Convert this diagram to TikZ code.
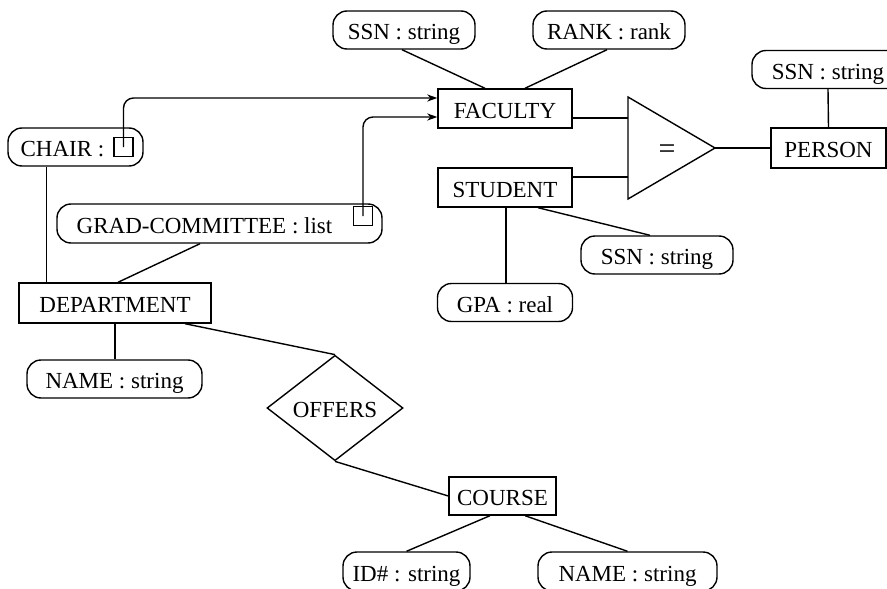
\documentclass[tikz,border=0pt]{standalone}
\usepackage{fontspec}
\setmainfont{Liberation Serif}
\usetikzlibrary{shapes.geometric,arrows.meta}

\tikzset{
  base/.style={font=\fontsize{23}{27}\selectfont, inner sep=0pt, text height=20pt, text depth=1pt, line width=1.4pt},
  entity/.style={base, draw, rectangle, minimum height=39pt},
  attr/.style={base, draw, rectangle, rounded corners=14pt, minimum height=38pt},
  relship/.style={base, draw, diamond, minimum width=136pt, minimum height=78pt},
  refbox/.style={draw, rectangle, inner sep=0pt, minimum size=19pt, line width=1.4pt},
  link/.style={line width=1.4pt},
  refarrow/.style={line width=1.4pt, rounded corners=10pt, -{Stealth[length=10pt,width=7pt,inset=3pt]}}
}

\begin{document}
\begin{tikzpicture}[x=1pt,y=-1pt]
\useasboundingbox (0,0) rectangle (887,589);
\clip (0,0) rectangle (887,589);

% entity sets
\node[entity, minimum width=134pt] (fac)    at (505,108.5) {FACULTY};
\node[entity, minimum width=134pt] (stu)    at (505,187.5) {STUDENT};
\node[entity, minimum width=115pt, minimum height=40pt] (person) at (828.5,148) {PERSON};
\node[entity, minimum width=192pt, minimum height=40pt] (dept)   at (115,303) {DEPARTMENT};
\node[entity, minimum width=107pt, minimum height=38pt] (course) at (502.5,496) {COURSE};

% attributes
\node[attr, minimum width=142pt] (ssnF)  at (404,30)    {SSN : string};
\node[attr, minimum width=152pt] (rankF) at (609,30)    {RANK : rank};
\node[attr, minimum width=152pt] (ssnP)  at (828,69.5)  {SSN : string};
\node[attr, minimum width=152pt] (ssnS)  at (657,255)   {SSN : string};
\node[attr, minimum width=135pt] (gpa)   at (505,302.5) {GPA : real};
\node[attr, minimum width=135pt] (chair) at (75.5,147)  {\hspace*{-26pt}CHAIR :};
\node[attr, minimum width=325pt, minimum height=39pt] (grad) at (219.5,223.5) {\hspace*{-30pt}GRAD-COMMITTEE : list};
\node[attr, minimum width=175pt] (nameD) at (114.5,379) {NAME : string};
\node[attr, minimum width=127pt, minimum height=39pt] (idC)   at (406.5,571.5) {ID\# : string};
\node[attr, minimum width=179pt, minimum height=39pt] (nameC) at (627.5,571.5) {NAME : string};

% reference slots inside attributes
\node[refbox] (chsq) at (123.5,147) {};
\node[refbox] (grsq) at (363,216) {};

% relationship
\node[relship] (offers) at (335,408) {OFFERS};

% generalisation triangle
\coordinate (tA) at (628,97);
\coordinate (tB) at (628,199);
\coordinate (tC) at (715,148);
\draw[link] (tA) -- (tB) -- (tC) -- cycle;
\node[font=\fontsize{30}{30}\selectfont, inner sep=0pt] (eq) at (667,152) {=};
\coordinate (tin1) at (628,118);
\coordinate (tin2) at (628,177);

% connectors
\draw[link] ([xshift=-2pt]ssnF.south) -- ([xshift=-20pt]fac.north);
\draw[link] ([xshift=-2pt]rankF.south) -- ([xshift=20pt]fac.north);
\draw[link] (fac.east |- tin1) -- (tin1);
\draw[link] (stu.east |- tin2) -- (tin2);
\draw[link] (tC) -- (person.west);
\draw[link] (ssnP.south) -- (person.north);
\draw[link] ([xshift=1pt]stu.south) -- ([xshift=1pt]stu.south |- gpa.north);
\draw[link] ([xshift=33pt]stu.south) -- ([xshift=-7pt]ssnS.north);
\draw[link] ([xshift=39pt]chair.south west) -- ([xshift=39pt]chair.south west |- dept.north);
\draw[link] ([xshift=-19.5pt]grad.south) -- ([xshift=3pt]dept.north);
\draw[link] (dept.south) -- (dept.south |- nameD.north);
\draw[link] ([xshift=70pt]dept.south) -- (offers.north);
\draw[link] (offers.south) -- (course.west);
\draw[link] ([xshift=-12.5pt]course.south) -- (idC.north);
\draw[link] ([xshift=22.5pt]course.south) -- (nameC.north);

% reference arrows into FACULTY
\draw[refarrow] (chsq.center) |- ([yshift=10.5pt]fac.west);
\draw[refarrow] (grsq.center) |- ([yshift=-8.5pt]fac.west);
\end{tikzpicture}
\end{document}
